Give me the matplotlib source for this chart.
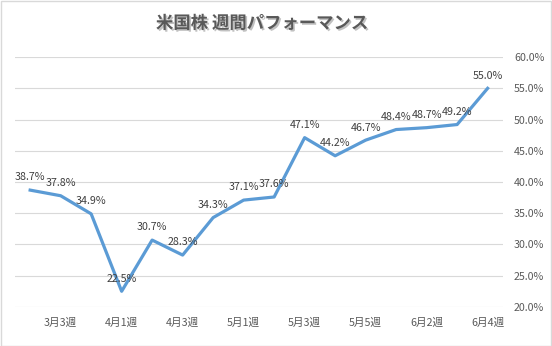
import matplotlib
matplotlib.use('Agg')
import matplotlib.pyplot as plt
import matplotlib.patheffects as pe
from matplotlib.patches import Rectangle
from matplotlib.ticker import FuncFormatter

# ---- Data ----
weeks = ['3月2週', '3月3週', '3月4週', '4月1週', '4月2週', '4月3週', '4月4週', '5月1週',
         '5月2週', '5月3週', '5月4週', '5月5週', '6月1週', '6月2週', '6月3週', '6月4週']
perf = [38.7, 37.8, 34.9, 22.5, 30.7, 28.3, 34.3, 37.1,
        37.6, 47.1, 44.2, 46.7, 48.4, 48.7, 49.2, 55.0]
yticks = [20, 25, 30, 35, 40, 45, 50, 55, 60]

plt.rcParams['font.family'] = ['Noto Sans CJK JP', 'DejaVu Sans']

fig = plt.figure(figsize=(5.52, 3.46), dpi=100)
ax = fig.add_axes([0.027, 0.113, 0.884, 0.722])

x = list(range(len(weeks)))
ax.plot(x, perf, color='#5B9BD5', linewidth=2.3, solid_joinstyle='round', zorder=3)

for xi, v in zip(x, perf):
    ax.annotate(f'{v:.1f}%', (xi, v), xytext=(0, 5.5), textcoords='offset points',
                ha='center', va='bottom', fontsize=7.7, color='#404040', zorder=4)

ax.set_xlim(-0.5, len(weeks) - 0.5)
ax.set_ylim(20, 60)
ax.set_yticks(yticks)
ax.yaxis.set_major_formatter(FuncFormatter(lambda v, p: f'{v:.1f}%'))
ax.yaxis.tick_right()
ax.set_xticks(x[1::2])
ax.set_xticklabels(weeks[1::2])
ax.tick_params(axis='both', length=0, labelsize=7.7, labelcolor='#595959')
ax.tick_params(axis='y', pad=8)
ax.tick_params(axis='x', pad=8)
ax.grid(axis='y', color='#d9d9d9', linewidth=0.8)
ax.set_axisbelow(True)
for s in ax.spines.values():
    s.set_visible(False)

fig.text(0.475, 0.932, '米国株 週間パフォーマンス', ha='center', va='center',
         fontsize=12.5, fontweight='bold', color='#595959',
         path_effects=[pe.SimplePatchShadow(offset=(1.2, -1.2), shadow_rgbFace='#999999', alpha=0.6),
                       pe.Normal()])

fig.patches.append(Rectangle((0.001, 0.001), 0.997, 0.996, transform=fig.transFigure,
                             fill=False, edgecolor='#d9d9d9', linewidth=1))

fig.savefig('out.png', dpi=100)
